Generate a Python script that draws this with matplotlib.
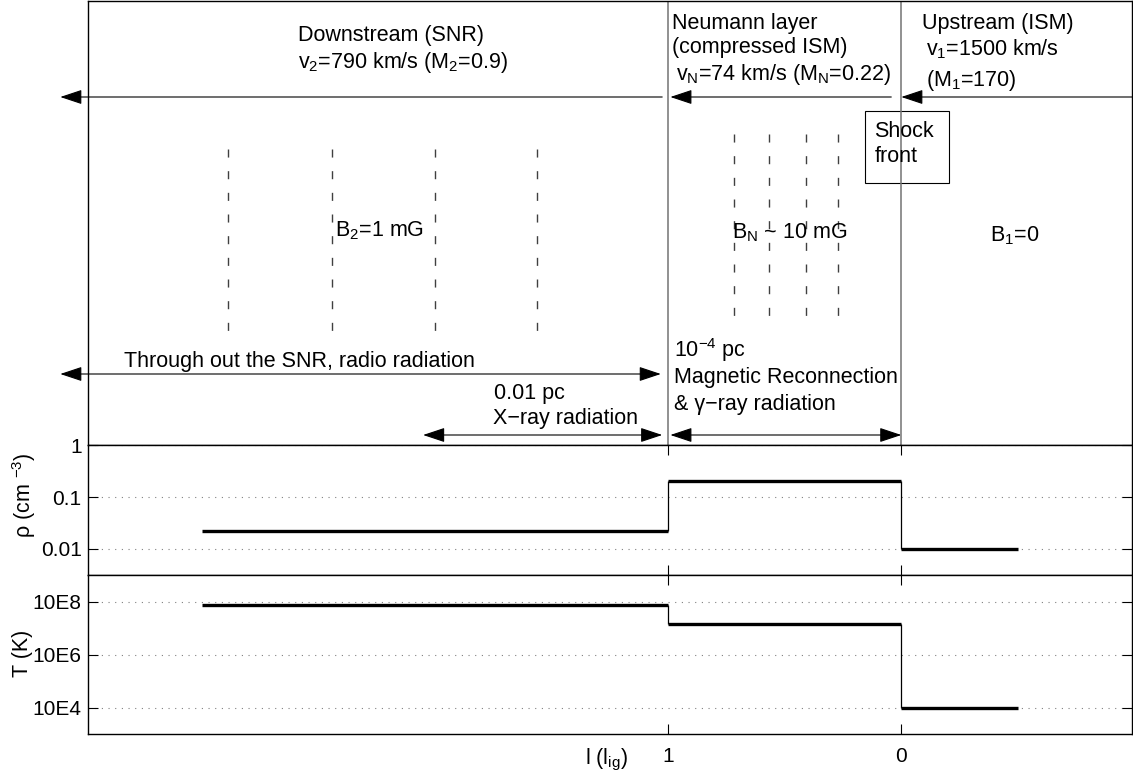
import matplotlib.pyplot as plt
from matplotlib.patches import Rectangle
from matplotlib.ticker import NullLocator

plt.rcParams.update(
    {
        "font.family": ["Liberation Sans", "DejaVu Sans"],
        "mathtext.fontset": "custom",
        "mathtext.rm": "Liberation Sans",
        "mathtext.it": "Liberation Sans:italic",
        "mathtext.bf": "Liberation Sans:bold",
        "axes.linewidth": 1.0,
    }
)

# region edges along l (l_ig): downstream SNR | Neumann layer | upstream ISM
edges = [3.0, 1.0, 0.0, -0.5]
density = [0.022, 0.2, 0.01]  # cm^-3
temperature = [7.5e7, 1.4e7, 1.0e4]  # K

x_ticks = [1, 0]
x_ticklabels = ["1", "0"]
rho_ticks = [0.01, 0.1, 1]
rho_ticklabels = ["0.01", "0.1", "1"]
T_ticks = [1e4, 1e6, 1e8]
T_ticklabels = ["10E4", "10E6", "10E8"]

# dashed magnetic field lines drawn in the sketch
field_lines_snr = [2.888, 2.442, 2.0, 1.562]
field_lines_neumann = [0.717, 0.567, 0.408, 0.270]

W, H = 1133, 783
FS = 15.5
XLIM = (3.49, -0.99)

fig = plt.figure(figsize=(W / 100, H / 100), dpi=100)


def panel(top, bottom):
    return [88 / W, 1 - bottom / H, (1132 - 88) / W, (bottom - top) / H]


ax_top = fig.add_axes(panel(1, 445))
ax_rho = fig.add_axes(panel(445, 575))
ax_T = fig.add_axes(panel(575, 734))

# ---- sketch panel (y in pixel-like units, top = 0) ----
ax_top.set_xlim(*XLIM)
ax_top.set_ylim(444, 0)
ax_top.set_xticks([])
ax_top.set_yticks([])
ax_top.vlines(edges[1:3], 0, 444, color="0.45", lw=1.1)

for x in field_lines_snr:
    ax_top.vlines(x, 148, 332, color="0.25", lw=1.0, linestyles=(0, (5.8, 9.8)))
for x in field_lines_neumann:
    ax_top.vlines(x, 133, 320, color="0.25", lw=1.0, linestyles=(0, (5.8, 9.8)))

texts = [
    (2.588, 40, "Downstream (SNR)"),
    (2.588, 67, r"v$_2$=790 km/s (M$_2$=0.9)"),
    (0.983, 28, "Neumann layer"),
    (0.983, 52, "(compressed ISM)"),
    (0.966, 79, r"v$_{\rm N}$=74 km/s (M$_{\rm N}$=0.22)"),
    (-0.090, 28, "Upstream (ISM)"),
    (-0.107, 54, r"v$_1$=1500 km/s"),
    (-0.107, 85, r"(M$_1$=170)"),
    (0.116, 136, "Shock"),
    (0.116, 161.5, "front"),
    (2.429, 235, r"B$_2$=1 mG"),
    (0.725, 237, r"B$_{\rm N}$ ~ 10 mG"),
    (-0.382, 240, r"B$_1$=0"),
    (3.335, 366, "Through out the SNR, radio radiation"),
    (1.747, 398, "0.01 pc"),
    (1.751, 423, "X\u2212ray radiation"),
    (0.974, 356, r"10$^{-4}$ pc"),
    (0.974, 382, "Magnetic Reconnection"),
    (0.974, 409, "& \u03b3\u2212ray radiation"),
]
for x, y, s in texts:
    ax_top.text(x, y, s, fontsize=FS, ha="left", va="baseline")

ax_top.add_patch(
    Rectangle((-0.206, 110), 0.361, 72, fill=False, edgecolor="black", lw=0.8)
)

head = dict(color="black", lw=0.8, shrinkA=0, shrinkB=0, mutation_scale=10)
one_way = dict(arrowstyle="-|>,head_length=1.35,head_width=0.45", **head)
two_way = dict(arrowstyle="<|-|>,head_length=1.35,head_width=0.45", **head)

# flow arrows (tail, head, y)
for tail, tip, y in [(1.026, 3.609, 96), (0.043, 0.991, 96), (-0.99, 0.0, 96)]:
    ax_top.annotate("", xy=(tip, y), xytext=(tail, y), arrowprops=one_way,
                    annotation_clip=False)
# extent arrows
for a, b, y in [(3.609, 1.032, 373), (2.052, 1.026, 434), (0.991, 0.0, 434)]:
    ax_top.annotate("", xy=(b, y), xytext=(a, y), arrowprops=two_way,
                    annotation_clip=False)


# ---- profile panels ----
def draw_profile(ax, values):
    ax.hlines(values, edges[:-1], edges[1:], color="black", lw=2.4, zorder=3)
    ax.vlines(edges[1:-1], values[:-1], values[1:], color="black", lw=0.9, zorder=3)


for ax in (ax_rho, ax_T):
    ax.set_xlim(*XLIM)
    ax.set_yscale("log")
    ax.set_xticks(x_ticks)
    ax.tick_params(direction="in", length=7, width=0.8, top=True, right=True,
                   labelsize=15, pad=4.5)
    ax.grid(axis="y", linestyle=(0, (1, 5)), color="0.5", lw=0.8)
    ax.set_axisbelow(True)

draw_profile(ax_rho, density)
ax_rho.set_ylim(10 ** -2.5, 1)
ax_rho.set_yticks(rho_ticks)
ax_rho.set_yticklabels(rho_ticklabels)
ax_rho.yaxis.set_minor_locator(NullLocator())
ax_rho.set_xticklabels([])
ax_rho.text(-0.061, 0.615, r"ρ (cm $^{-3}$)", transform=ax_rho.transAxes,
            rotation=90, ha="center", va="center", fontsize=FS)

draw_profile(ax_T, temperature)
ax_T.set_ylim(1e3, 1e9)
ax_T.set_yticks(T_ticks)
ax_T.set_yticklabels(T_ticklabels)
ax_T.yaxis.set_minor_locator(NullLocator())
ax_T.set_xticklabels(x_ticklabels)
ax_T.tick_params(axis="x", pad=9)
ax_T.text(-0.063, 0.509, "T (K)", transform=ax_T.transAxes,
          rotation=90, ha="center", va="center", fontsize=FS)
ax_T.annotate(r"l (l$_{\rm ig}$)", xy=(1.266, 0), xycoords=ax_T.get_xaxis_transform(),
              xytext=(0, -9), textcoords="offset points", ha="center", va="top",
              fontsize=FS)

fig.savefig("out.png", dpi=100)
